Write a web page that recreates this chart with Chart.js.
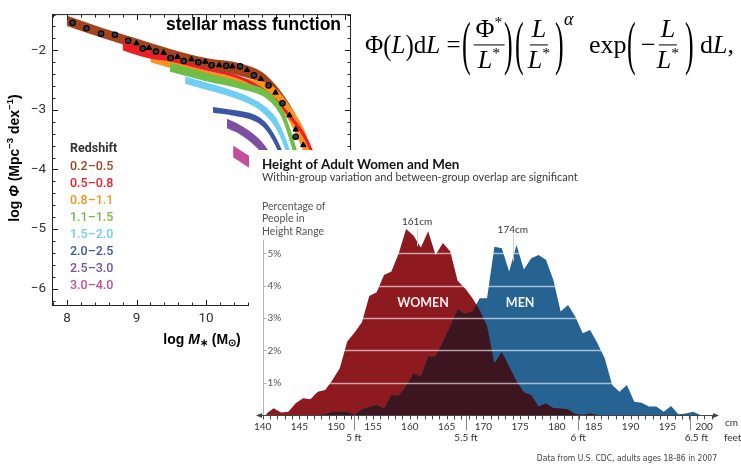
<!DOCTYPE html>
<html>
<head>
<meta charset="utf-8">
<script src="https://cdn.jsdelivr.net/npm/chart.js@4.4.1/dist/chart.umd.min.js"></script>
<style>
  html, body { margin: 0; padding: 0; background: #fff; }
  body { width: 741px; height: 464px; position: relative; overflow: hidden; }
  #massChart { position: absolute; left: 0; top: 0; z-index: 1; }
  #eq { position: absolute; left: 0; top: 0; width: 741px; height: 90px; z-index: 2; color: #000;
        font-family: 'Liberation Serif', 'Times New Roman', serif; font-size: 26px; white-space: nowrap; }
  #eq i { font-style: italic; }
  #eq .p { position: absolute; top: 45px; transform: translateY(-50%); }
  #eq .lhs { font-size: 25px; }
  #eq .frac { display: flex; flex-direction: column; align-items: center; line-height: 1.08; transform: translate(-50%, -50%); }
  #eq .num { border-bottom: 1.3px solid #000; padding: 0 2px 1px; }
  #eq .den { padding: 1px 2px 0; }
  #eq .bp { transform: translateY(-50%) scale(1, 2.3); }
  #eq .mp { display: inline-block; transform: scaleY(1.2); }
  #eq .st { font-size: 60%; position: relative; top: -0.65em; }
  #eq .alpha { font-size: 18px; font-style: italic; top: 19px; }
  #heightPanel { position: absolute; left: 249px; top: 150px; width: 492px; height: 314px; background: #fff; z-index: 3; }
</style>
</head>
<body>
<canvas id="massChart" width="360" height="360"></canvas>

<div id="eq">
  <span class="p lhs" style="left:365px">Φ<span class="mp">(</span><i>L</i><span class="mp">)</span>d<i>L</i> =</span>
  <span class="p bp" style="left:462px">(</span>
  <span class="p frac" style="left:489px"><span class="num">Φ<span class="st">*</span></span><span class="den"><i>L</i><span class="st">*</span></span></span>
  <span class="p bp" style="left:504px">)</span>
  <span class="p bp" style="left:515px">(</span>
  <span class="p frac" style="left:539px"><span class="num"><i>L</i></span><span class="den"><i>L</i><span class="st">*</span></span></span>
  <span class="p bp" style="left:555px">)</span>
  <span class="p alpha" style="left:564px">α</span>
  <span class="p" style="left:589px">exp</span>
  <span class="p bp" style="left:627px">(</span>
  <span class="p" style="left:641px">−</span>
  <span class="p frac" style="left:668px"><span class="num"><i>L</i></span><span class="den"><i>L</i><span class="st">*</span></span></span>
  <span class="p bp" style="left:685px">)</span>
  <span class="p" style="left:700px">d<i>L</i>,</span>
</div>

<div id="heightPanel"><canvas id="heightChart" width="492" height="314"></canvas></div>

<script>
// ---- stellar mass function ----
const massTicks = [8, 9, 10, 11, 12];
const phiTicks = [-2, -3, -4, -5, -6];
const redshiftBins = ['0.2–0.5', '0.5–0.8', '0.8–1.1', '1.1–1.5', '1.5–2.0', '2.0–2.5', '2.5–3.0', '3.0–4.0'];
const binColors = ['#a4441e', '#ec1e27', '#f7941d', '#6fbe45', '#6fcff3', '#3a56a5', '#7d4fa1', '#c24e9e'];

// band edges: log M*, upper and lower log Phi
const massZ02 = [8.0, 8.5, 9.0, 9.5, 10.0, 10.5, 10.8, 11.0, 11.2, 11.4, 11.5];
const upperZ02 = [-1.42, -1.62, -1.80, -1.98, -2.13, -2.22, -2.36, -2.58, -2.90, -3.34, -3.64];
const lowerZ02 = [-1.59, -1.79, -1.97, -2.15, -2.31, -2.43, -2.56, -2.78, -3.08, -3.58, -3.90];

const massZ05 = [8.8, 9.0, 9.2, 9.5, 10.0, 10.5, 10.8, 11.0, 11.2, 11.4, 11.5, 11.6];
const upperZ05 = [-1.82, -1.93, -2.02, -2.12, -2.29, -2.44, -2.62, -2.80, -3.06, -3.36, -3.58, -3.85];
const lowerZ05 = [-2.00, -2.08, -2.14, -2.19, -2.34, -2.49, -2.68, -2.87, -3.14, -3.46, -3.70, -4.00];

const massZ08 = [9.2, 9.5, 10.0, 10.5, 10.8, 11.0, 11.2, 11.4, 11.5];
const upperZ08 = [-2.03, -2.16, -2.34, -2.46, -2.52, -2.64, -2.92, -3.30, -3.60];
const lowerZ08 = [-2.20, -2.30, -2.44, -2.60, -2.70, -2.86, -3.20, -3.70, -4.05];

const massZ11 = [9.48, 10.0, 10.5, 10.9, 11.1, 11.2, 11.3, 11.38];
const upperZ11 = [-2.21, -2.38, -2.53, -2.70, -2.98, -3.28, -3.65, -3.98];
const lowerZ11 = [-2.36, -2.52, -2.65, -2.84, -3.16, -3.50, -3.90, -4.20];

const massZ15 = [9.7, 10.0, 10.3, 10.6, 10.8, 11.0, 11.12, 11.22, 11.3];
const upperZ15 = [-2.44, -2.54, -2.64, -2.77, -2.90, -3.12, -3.40, -3.72, -4.00];
const lowerZ15 = [-2.56, -2.66, -2.76, -2.89, -3.03, -3.30, -3.60, -3.95, -4.25];

const massZ20 = [10.1, 10.4, 10.7, 10.85, 11.0, 11.1, 11.18];
const upperZ20 = [-2.95, -3.00, -3.08, -3.20, -3.45, -3.70, -3.95];
const lowerZ20 = [-3.05, -3.10, -3.19, -3.32, -3.60, -3.88, -4.15];

const massZ25 = [10.3, 10.5, 10.7, 10.85, 10.95];
const upperZ25 = [-3.15, -3.26, -3.42, -3.60, -3.78];
const lowerZ25 = [-3.31, -3.42, -3.60, -3.80, -4.00];

const massZ30 = [10.39, 10.5, 10.63];
const upperZ30 = [-3.60, -3.68, -3.78];
const lowerZ30 = [-3.80, -3.88, -3.98];

// local survey points
const circleMass = [8.08, 8.28, 8.49, 8.69, 8.88, 9.09, 9.28, 9.49, 9.68, 9.89, 10.08, 10.29, 10.49, 10.69, 10.90, 11.10, 11.29];
const circlePhi = [-1.54, -1.63, -1.72, -1.74, -1.84, -1.97, -2.02, -2.13, -2.18, -2.20, -2.25, -2.26, -2.27, -2.42, -2.59, -2.89, -3.45];
const triMass = [9.0, 9.18, 9.39, 9.59, 9.79, 9.99, 10.19, 10.38, 10.59, 10.79, 11.0, 11.2, 11.29, 11.40];
const triPhi = [-1.88, -1.96, -2.04, -2.11, -2.15, -2.19, -2.25, -2.27, -2.33, -2.48, -2.71, -3.09, -3.33, -3.59];

const bands = [
  [massZ02, upperZ02, lowerZ02], [massZ05, upperZ05, lowerZ05], [massZ08, upperZ08, lowerZ08],
  [massZ11, upperZ11, lowerZ11], [massZ15, upperZ15, lowerZ15], [massZ20, upperZ20, lowerZ20],
  [massZ25, upperZ25, lowerZ25], [massZ30, upperZ30, lowerZ30]
];
// stacking: brown at the back, then orange, red, green ... magenta in front
const bandOrder = [9, 7, 8, 6, 5, 4, 3, 2];

const pts = (xs, ys) => xs.map((v, i) => ({ x: v, y: ys[i] }));

const massDatasets = [
  { data: pts(circleMass, circlePhi), showLine: false, pointStyle: 'circle', pointRadius: 2.7,
    pointBackgroundColor: '#3a3a3a', pointBorderColor: '#000', pointBorderWidth: 1.2, order: 0 },
  { data: pts(triMass, triPhi), showLine: false, pointStyle: 'triangle', pointRadius: 3.1,
    pointBackgroundColor: '#000', pointBorderColor: '#000', pointBorderWidth: 1, order: 1 }
];
bands.forEach(([mass, upper, lower], i) => {
  const common = { borderWidth: 0, pointRadius: 0, cubicInterpolationMode: 'monotone', order: bandOrder[i] };
  massDatasets.push({ ...common, data: pts(mass, upper), fill: false });
  massDatasets.push({ ...common, data: pts(mass, lower), fill: '-1', backgroundColor: binColors[i] });
});

function drawRuns(ctx, runs, cx, cy, rotate) {
  ctx.save();
  ctx.translate(cx, cy);
  if (rotate) ctx.rotate(-Math.PI / 2);
  let total = 0;
  runs.forEach(r => { ctx.font = r[1]; total += ctx.measureText(r[0]).width; });
  let pos = -total / 2;
  ctx.textBaseline = 'middle';
  ctx.textAlign = 'left';
  runs.forEach(r => { ctx.font = r[1]; ctx.fillText(r[0], pos, r[2] || 0); pos += ctx.measureText(r[0]).width; });
  ctx.restore();
}

const massFrame = {
  id: 'massFrame',
  afterDraw(chart) {
    const { ctx, chartArea: a, scales: { x, y } } = chart;
    ctx.save();
    ctx.strokeStyle = '#231f20';
    ctx.lineWidth = 1;
    ctx.strokeRect(a.left + 0.5, a.top + 0.5, a.right - a.left - 1, a.bottom - a.top - 1);
    ctx.beginPath();
    // inward ticks, minor every 0.2 dex
    for (let k = 39; k <= 60; k++) {
      const px = Math.round(x.getPixelForValue(k / 5)) + 0.5;
      const len = k % 5 === 0 ? 6 : 3.5;
      ctx.moveTo(px, a.bottom); ctx.lineTo(px, a.bottom - len);
      ctx.moveTo(px, a.top); ctx.lineTo(px, a.top + len);
    }
    for (let k = -31; k <= -7; k++) {
      const py = Math.round(y.getPixelForValue(k / 5)) + 0.5;
      const len = k % 5 === 0 ? 6 : 3.5;
      ctx.moveTo(a.left, py); ctx.lineTo(a.left + len, py);
      ctx.moveTo(a.right, py); ctx.lineTo(a.right - len, py);
    }
    ctx.stroke();

    ctx.fillStyle = '#000';
    ctx.font = 'bold 17.5px "Liberation Sans", Arial, sans-serif';
    ctx.textBaseline = 'alphabetic';
    ctx.fillText('stellar mass function', 166, 30);

    ctx.fillStyle = '#333';
    ctx.font = 'bold 12.5px Roboto, sans-serif';
    ctx.textBaseline = 'middle';
    ctx.fillText('Redshift', 70, 149);
    ctx.font = '500 12.5px Roboto, sans-serif';
    redshiftBins.forEach((lab, i) => {
      ctx.fillStyle = binColors[i];
      ctx.fillText(lab, 70, 166.5 + i * 17.1);
    });

    ctx.fillStyle = '#000';
    const b = 'bold 14px "Liberation Sans", Arial, sans-serif';
    const bi = 'italic bold 14px "Liberation Sans", Arial, sans-serif';
    const sm = 'bold 9.5px "Liberation Sans", Arial, sans-serif';
    drawRuns(ctx, [['log ', b], ['M', bi], ['∗', sm, 3], [' (M', b], ['⊙', sm, 3], [')', b]], 202, 340);
    drawRuns(ctx, [['log ', b], ['Φ', bi], [' (Mpc', b], ['−3', sm, -5], [' dex', b], ['−1', sm, -5], [')', b]], 15, 158, true);
    ctx.restore();
  }
};

new Chart(document.getElementById('massChart'), {
  type: 'line',
  data: { datasets: massDatasets },
  options: {
    responsive: false,
    animation: false,
    events: [],
    layout: { padding: { top: 8, right: 9, left: 0, bottom: 0 } },
    plugins: { legend: { display: false }, tooltip: { enabled: false } },
    scales: {
      x: {
        type: 'linear', min: 7.784, max: 12.086,
        grid: { display: false, drawTicks: false }, border: { display: false },
        afterBuildTicks: s => { s.ticks = massTicks.map(v => ({ value: v })); },
        afterFit: s => { s.height = 54; },
        ticks: { padding: 5, color: '#333', font: { family: 'Roboto', size: 13.5 }, maxRotation: 0, callback: v => String(v) }
      },
      y: {
        type: 'linear', min: -6.292, max: -1.392,
        grid: { display: false, drawTicks: false }, border: { display: false },
        afterBuildTicks: s => { s.ticks = phiTicks.map(v => ({ value: v })); },
        afterFit: s => { s.width = 52; },
        ticks: { padding: 6, color: '#333', font: { family: 'Roboto', size: 13.5 }, callback: v => '\u2212' + Math.abs(v) }
      }
    }
  },
  plugins: [massFrame]
});

// ---- adult height distribution ----
const heightCm = [140.5, 141.5, 142.5, 143.5, 144.5, 145.5, 146.5, 147.5, 148.5, 149.5,
  150.5, 151.5, 152.5, 153.5, 154.5, 155.5, 156.5, 157.5, 158.5, 159.5,
  160.5, 161.5, 162.5, 163.5, 164.5, 165.5, 166.5, 167.5, 168.5, 169.5,
  170.5, 171.5, 172.5, 173.5, 174.5, 175.5, 176.5, 177.5, 178.5, 179.5,
  180.5, 181.5, 182.5, 183.5, 184.5, 185.5, 186.5, 187.5, 188.5, 189.5,
  190.5, 191.5, 192.5, 193.5, 194.5, 195.5, 196.5, 197.5, 198.5, 199.5];
const womenPct = [0.04, 0.21, 0.08, 0.10, 0.36, 0.52, 0.49, 0.72, 0.77, 1.08,
  1.45, 2.27, 2.55, 2.87, 3.68, 3.80, 4.33, 4.44, 5.00, 5.75,
  5.55, 5.18, 5.68, 4.95, 5.32, 5.06, 4.15, 3.92, 3.62, 3.25,
  2.75, 1.60, 1.96, 1.50, 1.05, 0.70, 0.62, 0.26, 0.36, 0.22,
  0.20, 0.18, 0.03, 0.01, 0.05, 0, 0, 0, 0, 0,
  0, 0, 0, 0, 0, 0, 0, 0, 0, 0];
const menPct = [0, 0, 0, 0, 0, 0, 0, 0, 0.02, 0.10,
  0.10, 0.10, 0.00, 0.18, 0.25, 0.31, 0.20, 0.62, 0.60, 0.90,
  1.29, 1.20, 1.81, 1.82, 2.27, 2.75, 3.27, 3.13, 3.20, 3.61,
  3.61, 5.20, 5.16, 4.44, 5.26, 4.50, 4.85, 4.95, 4.80, 4.18,
  3.20, 3.40, 3.04, 2.53, 2.63, 2.22, 1.75, 0.93, 0.72, 0.93,
  0.41, 0.38, 0.26, 0.26, 0.10, 0.28, 0.02, 0.05, 0.10, 0];
const cmTicks = [140, 145, 150, 155, 160, 165, 170, 175, 180, 185, 190, 195, 200];
const feetTicks = [152.4, 167.64, 182.88, 198.12];
const feetLabels = ['5 ft', '5.5 ft', '6 ft', '6.5 ft'];
const pctTicks = [1, 2, 3, 4, 5];
const medianCm = [161, 174];

const womenColor = '#8c1a1f';
const menColor = '#266292';
const overlapColor = '#3d1520';
const sans = 'Lato, "Open Sans", sans-serif';

const heightDecor = {
  id: 'heightDecor',
  afterDatasetsDraw(chart) {
    const { ctx, chartArea: a, scales: { x, y } } = chart;
    const base = y.getPixelForValue(0);
    const areaPath = els => {
      const p = new Path2D();
      p.moveTo(els[0].x, base);
      els.forEach(e => p.lineTo(e.x, e.y));
      p.lineTo(els[els.length - 1].x, base);
      p.closePath();
      return p;
    };
    // where the two distributions overlap
    ctx.save();
    ctx.clip(areaPath(chart.getDatasetMeta(1).data));
    ctx.fillStyle = overlapColor;
    ctx.fill(areaPath(chart.getDatasetMeta(0).data));
    ctx.restore();

    ctx.save();
    ctx.strokeStyle = 'rgba(255,255,255,0.6)';
    ctx.lineWidth = 1.3;
    ctx.beginPath();
    pctTicks.forEach(v => {
      const py = Math.round(y.getPixelForValue(v)) + 0.5;
      ctx.moveTo(x.getPixelForValue(145), py);
      ctx.lineTo(a.right, py);
    });
    ctx.stroke();

    // median markers
    ctx.strokeStyle = 'rgba(205,205,205,0.9)';
    ctx.lineWidth = 1;
    ctx.beginPath();
    const medTop = [5.82, 5.56], medBottom = [5.22, 4.75];
    medianCm.forEach((c, i) => {
      const px = Math.round(x.getPixelForValue(c)) + 0.5;
      ctx.moveTo(px, y.getPixelForValue(medTop[i]));
      ctx.lineTo(px, y.getPixelForValue(medBottom[i]));
    });
    ctx.stroke();
    ctx.fillStyle = '#333';
    ctx.font = '10px ' + sans;
    ctx.textAlign = 'center';
    ctx.textBaseline = 'middle';
    ctx.fillText(medianCm[0] + 'cm', x.getPixelForValue(medianCm[0]), y.getPixelForValue(5.98));
    ctx.fillText(medianCm[1] + 'cm', x.getPixelForValue(medianCm[1]), y.getPixelForValue(5.73));

    ctx.fillStyle = 'rgba(255,255,255,0.92)';
    ctx.font = 'bold 12.5px ' + sans;
    ctx.fillText('WOMEN', x.getPixelForValue(161.8), y.getPixelForValue(3.47));
    ctx.fillText('MEN', x.getPixelForValue(175.0), y.getPixelForValue(3.47));
    ctx.restore();
  },
  afterDraw(chart) {
    const { ctx, chartArea: a, scales: { x, y } } = chart;
    const base = Math.round(y.getPixelForValue(0)) + 0.5;
    ctx.save();
    // headings
    ctx.fillStyle = '#111';
    ctx.textAlign = 'left';
    ctx.textBaseline = 'alphabetic';
    ctx.font = 'bold 13.4px ' + sans;
    ctx.fillText('Height of Adult Women and Men', 13, 18.5);
    ctx.fillStyle = '#3a3a3a';
    ctx.font = '11px ' + sans;
    ctx.fillText('Within-group variation and between-group overlap are significant', 13, 31);
    ctx.fillStyle = '#555';
    ctx.font = '10.5px ' + sans;
    ['Percentage of', 'People in', 'Height Range'].forEach((t, i) => ctx.fillText(t, 13, 60 + i * 12.4));

    // y axis
    const x0 = Math.round(x.getPixelForValue(140)) + 0.5;
    ctx.strokeStyle = '#b5b5b5';
    ctx.lineWidth = 1;
    ctx.beginPath();
    ctx.moveTo(x0, y.getPixelForValue(5.42));
    ctx.lineTo(x0, base);
    pctTicks.forEach(v => {
      const py = Math.round(y.getPixelForValue(v)) + 0.5;
      ctx.moveTo(x0, py); ctx.lineTo(x0 + 3, py);
    });
    ctx.stroke();
    ctx.fillStyle = '#555';
    ctx.font = '10px ' + sans;
    ctx.textBaseline = 'middle';
    pctTicks.forEach(v => ctx.fillText(v + '%', x0 + 4, y.getPixelForValue(v)));

    // x axis with arrows
    ctx.strokeStyle = '#444';
    ctx.fillStyle = '#444';
    ctx.beginPath();
    ctx.moveTo(a.left, base); ctx.lineTo(a.right, base);
    for (let c = 140; c <= 201; c++) {
      const px = Math.round(x.getPixelForValue(c)) + 0.5;
      ctx.moveTo(px, base); ctx.lineTo(px, base + 4);
    }
    ctx.stroke();
    ctx.beginPath();
    ctx.moveTo(a.right + 1, base); ctx.lineTo(a.right - 5, base - 2.5); ctx.lineTo(a.right - 5, base + 2.5); ctx.closePath();
    ctx.moveTo(a.left - 1, base); ctx.lineTo(a.left + 5, base - 2.5); ctx.lineTo(a.left + 5, base + 2.5); ctx.closePath();
    ctx.fill();

    ctx.strokeStyle = '#8a8a8a';
    ctx.beginPath();
    feetTicks.forEach(c => {
      const px = Math.round(x.getPixelForValue(c)) + 0.5;
      ctx.moveTo(px, base); ctx.lineTo(px, base + 15);
    });
    ctx.stroke();

    ctx.fillStyle = '#333';
    ctx.font = '10px ' + sans;
    ctx.textAlign = 'center';
    cmTicks.forEach(c => ctx.fillText(String(c), x.getPixelForValue(c), base + 11));
    feetTicks.forEach((c, i) => ctx.fillText(feetLabels[i], x.getPixelForValue(c) + (i === 3 ? 6 : 0), base + 22.5));
    ctx.textAlign = 'left';
    ctx.fillText('cm', 476, base + 7);
    ctx.fillText('feet', 475, base + 22.5);

    ctx.textAlign = 'right';
    ctx.fillStyle = '#444';
    ctx.font = '8.5px "Liberation Sans Narrow", "DejaVu Sans Condensed", Roboto, sans-serif';
    ctx.fillText('Data from U.S. CDC, adults ages 18-86 in 2007', 468, 309);
    ctx.restore();
  }
};

new Chart(document.getElementById('heightChart'), {
  type: 'line',
  data: {
    datasets: [
      { data: pts(heightCm, womenPct), fill: 'origin', backgroundColor: womenColor, borderWidth: 0, pointRadius: 0, tension: 0, order: 2 },
      { data: pts(heightCm, menPct), fill: 'origin', backgroundColor: menColor, borderWidth: 0, pointRadius: 0, tension: 0, order: 1 }
    ]
  },
  options: {
    responsive: false,
    animation: false,
    events: [],
    layout: { padding: { left: 8, right: 23, top: 71, bottom: 49 } },
    plugins: { legend: { display: false }, tooltip: { enabled: false } },
    scales: {
      x: { type: 'linear', min: 139.24, max: 201.88, display: false },
      y: { type: 'linear', min: 0, max: 6, display: false }
    }
  },
  plugins: [heightDecor]
});
</script>
</body>
</html>
